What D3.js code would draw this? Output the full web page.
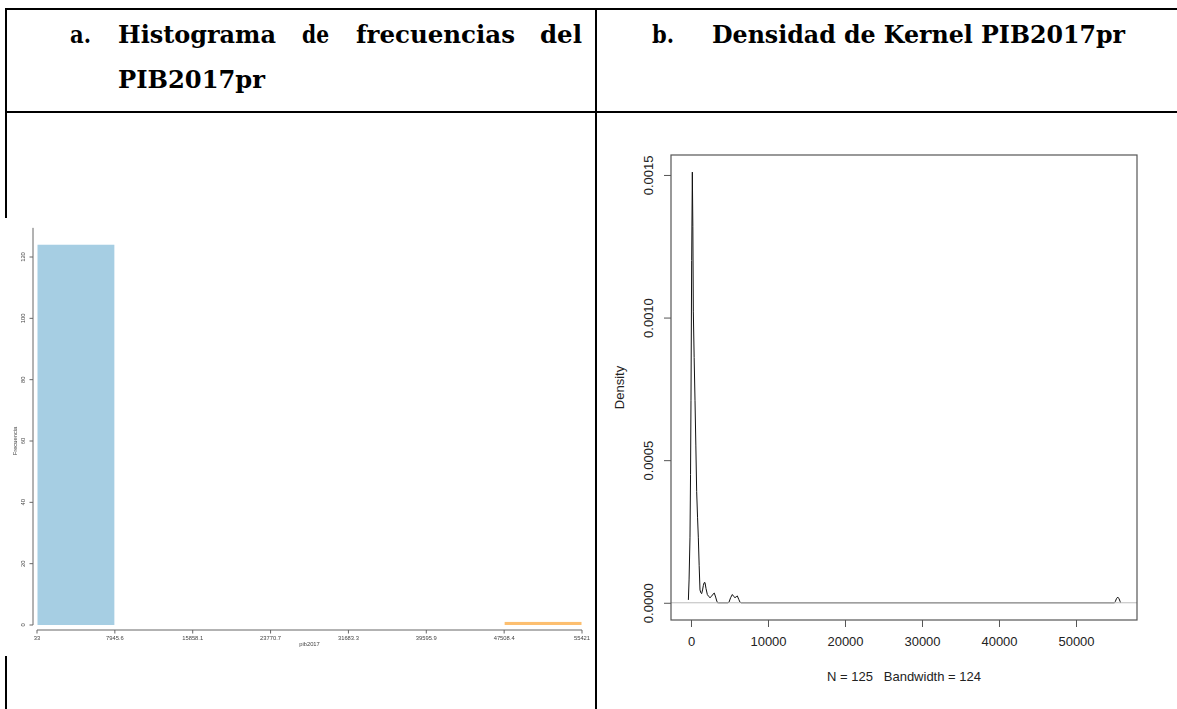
<!DOCTYPE html>
<html>
<head>
<meta charset="utf-8">
<script src="https://cdn.jsdelivr.net/npm/d3@7/dist/d3.min.js"></script>
<style>
  html, body { margin: 0; padding: 0; background: #fff; }
  svg { display: block; }
  text { white-space: pre; }
</style>
</head>
<body>
<svg id="page" width="1177" height="709"></svg>
<script>
// ---- Histogram of pib2017 (7 equal-width bins) ----
const histBreaks = [33, 7945.6, 15858.1, 23770.7, 31683.3, 39595.9, 47508.4, 55421];
const histBreakLabels = ["33", "7945.6", "15858.1", "23770.7", "31683.3", "39595.9", "47508.4", "55421"];
const histCounts = [124, 0, 0, 0, 0, 0, 1];
const histYTicks = [0, 20, 40, 60, 80, 100, 120];

// ---- Kernel density of PIB2017pr (N = 125, bandwidth = 124) ----
const densX = [-339, -250, -130, -60, 0, 87, 173, 240, 303, 410, 520, 630, 736, 850, 952,
  1060, 1169, 1280, 1385, 1500, 1600, 1700, 1818, 1950, 2121, 2300, 2468, 2650, 2850, 3030,
  3200, 3350, 3463, 3600, 4800, 4935, 5150, 5368, 5550, 5714, 5870, 6017, 6200, 6364, 6500,
  55000, 55100, 55250, 55421, 55590, 55740, 55793];
const densY = [0.00001, 0.00008, 0.00023, 0.00045, 0.00071, 0.00120, 0.00151, 0.00132, 0.00102,
  0.00086, 0.00071, 0.00055, 0.00039, 0.00030, 0.00023, 0.00013, 0.000045, 0.000035, 0.000032,
  0.000045, 0.00006, 0.00007, 0.000071, 0.00005, 0.000029, 0.000022, 0.000018, 0.000022, 0.00003,
  0.000034, 0.00002, 0.000006, 0, 0, 0, 0.000002, 0.000018, 0.000029, 0.000022, 0.000018,
  0.000021, 0.000024, 0.000012, 0.000002, 0, 0, 0.000004, 0.000014, 0.00002, 0.000014, 0.000004, 0];
const densXTicks = [0, 10000, 20000, 30000, 40000, 50000];
const densYTicks = [0, 0.0005, 0.0010, 0.0015];
const densYTickLabels = ["0.0000", "0.0005", "0.0010", "0.0015"];
const densN = 125, densBw = 124;

const svg = d3.select("#page");

// ---------- table frame ----------
const frame = svg.append("g").attr("stroke", "#000").attr("stroke-width", 2);
frame.append("line").attr("x1", 5).attr("x2", 1177).attr("y1", 9).attr("y2", 9);
frame.append("line").attr("x1", 5).attr("x2", 1177).attr("y1", 112).attr("y2", 112);
frame.append("line").attr("x1", 6).attr("x2", 6).attr("y1", 8).attr("y2", 709);
frame.append("line").attr("x1", 596).attr("x2", 596).attr("y1", 8).attr("y2", 709);

// ---------- cell headings ----------
const head = svg.append("g")
  .attr("font-family", "'DejaVu Serif Condensed', 'DejaVu Serif', 'Liberation Serif', serif")
  .style("font-stretch", "condensed")
  .attr("font-weight", "bold").attr("font-size", 25).attr("fill", "#000");
const headWords = [
  {t: "a.", x: 70, w: 21, y: 43},
  {t: "Histograma", x: 118, w: 158, y: 43},
  {t: "de", x: 302, w: 27, y: 43},
  {t: "frecuencias", x: 356, w: 159, y: 43},
  {t: "del", x: 540, w: 42, y: 43},
  {t: "PIB2017pr", x: 118, w: 147, y: 88},
  {t: "b.", x: 652, w: 22, y: 43},
  {t: "Densidad de Kernel PIB2017pr", x: 712, w: 413, y: 43}
];
head.selectAll("text").data(headWords).join("text")
  .attr("x", d => d.x).attr("y", d => d.y)
  .attr("textLength", d => d.w).attr("lengthAdjust", "spacingAndGlyphs")
  .text(d => d.t);

// ---------- panel a: histogram ----------
svg.append("rect").attr("x", 0).attr("y", 218).attr("width", 591).attr("height", 438).attr("fill", "#fff");

const defs = svg.append("defs");
defs.append("filter").attr("id", "soft").attr("x", "-5%").attr("y", "-5%").attr("width", "110%").attr("height", "110%")
  .append("feGaussianBlur").attr("stdDeviation", 0.55);

const hist = svg.append("g").attr("filter", "url(#soft)");
const hx = d3.scaleLinear().domain([histBreaks[0], histBreaks[histBreaks.length - 1]]).range([37, 582]);
const hy = d3.scaleLinear().domain([0, 120]).range([625, 257]);
const paired = d3.schemePaired;
const tiny = "'Liberation Sans', Arial, sans-serif";

const bins = histCounts.map((c, i) => ({x0: histBreaks[i], x1: histBreaks[i + 1], c, i}));
hist.selectAll("rect.bar").data(bins.filter(b => b.c > 0)).join("rect")
  .attr("class", "bar")
  .attr("x", d => hx(d.x0) + 0.5)
  .attr("width", d => hx(d.x1) - hx(d.x0) - 1)
  .attr("y", d => hy(d.c))
  .attr("height", d => hy(0) - hy(d.c))
  .attr("fill", d => paired[d.i]);

// y axis
hist.append("line").attr("x1", 33).attr("x2", 33).attr("y1", hy(0)).attr("y2", hy(129.5))
  .attr("stroke", "#666").attr("stroke-width", 1);
const hyt = hist.selectAll("g.yt").data(histYTicks).join("g").attr("class", "yt");
hyt.append("line").attr("x1", 29.5).attr("x2", 33).attr("y1", d => hy(d)).attr("y2", d => hy(d))
  .attr("stroke", "#666");
hyt.append("text")
  .attr("transform", d => `translate(24.5,${hy(d)}) rotate(-90)`)
  .attr("text-anchor", "middle")
  .attr("font-family", tiny).attr("font-size", 5.8).attr("fill", "#444")
  .text(d => d);
hist.append("text")
  .attr("transform", `translate(17,${hy(60)}) rotate(-90)`)
  .attr("text-anchor", "middle")
  .attr("font-family", tiny).attr("font-size", 5.8).attr("fill", "#444")
  .text("Frecuencia");

// x axis
hist.append("line").attr("x1", hx(histBreaks[0])).attr("x2", hx(histBreaks[histBreaks.length - 1]))
  .attr("y1", 630).attr("y2", 630).attr("stroke", "#666");
const hxt = hist.selectAll("g.xt").data(histBreaks).join("g").attr("class", "xt");
hxt.append("line").attr("x1", d => hx(d)).attr("x2", d => hx(d)).attr("y1", 630).attr("y2", 633.5)
  .attr("stroke", "#666");
hxt.append("text")
  .attr("x", d => hx(d)).attr("y", 640)
  .attr("text-anchor", "middle")
  .attr("font-family", tiny).attr("font-size", 5.8).attr("fill", "#444")
  .text((d, i) => histBreakLabels[i]);
hist.append("text")
  .attr("x", (hx(histBreaks[0]) + hx(histBreaks[histBreaks.length - 1])) / 2).attr("y", 646)
  .attr("text-anchor", "middle")
  .attr("font-family", tiny).attr("font-size", 5.8).attr("fill", "#444")
  .text("pib2017");

// ---------- panel b: kernel density ----------
const dens = svg.append("g");
const dx = d3.scaleLinear().domain([-2597, 57922]).range([671, 1137]);
const dy = d3.scaleLinear().domain([-0.0000604, 0.00157]).range([620, 155]);
const sans = "'Liberation Sans', Arial, sans-serif";

const pts = densX.map((x, i) => [x, densY[i]]);
dens.append("path").datum(pts)
  .attr("d", d3.line().x(d => dx(d[0])).y(d => dy(d[1])))
  .attr("fill", "none").attr("stroke", "#111").attr("stroke-width", 1);

// zero reference line drawn over the curve
dens.append("line").attr("x1", dx.range()[0]).attr("x2", dx.range()[1])
  .attr("y1", dy(0)).attr("y2", dy(0)).attr("stroke", "#bdbdbd").attr("stroke-width", 1);

// plot box
dens.append("rect").attr("x", dx.range()[0]).attr("y", dy.range()[1])
  .attr("width", dx.range()[1] - dx.range()[0]).attr("height", dy.range()[0] - dy.range()[1])
  .attr("fill", "none").attr("stroke", "#555").attr("stroke-width", 1.2);

// x axis
const xAxis = d3.axisBottom(dx).tickValues(densXTicks).tickSize(7).tickPadding(10).tickFormat(d3.format("d"));
const gx = dens.append("g").attr("transform", `translate(0,${dy.range()[0]})`).call(xAxis);
gx.select(".domain").remove();
gx.selectAll("line").attr("stroke", "#555");
gx.selectAll("text").attr("font-family", sans).attr("font-size", 13).attr("fill", "#222");

// y axis (labels parallel to the axis)
const yAxis = d3.axisLeft(dy).tickValues(densYTicks).tickSize(7).tickFormat((d, i) => densYTickLabels[i]);
const gy = dens.append("g").attr("transform", `translate(${dx.range()[0]},0)`).call(yAxis);
gy.select(".domain").remove();
gy.selectAll("line").attr("stroke", "#555");
gy.selectAll("text")
  .attr("x", null).attr("dy", null)
  .attr("text-anchor", "middle")
  .attr("transform", "translate(-18,0) rotate(-90)")
  .attr("font-family", sans).attr("font-size", 13).attr("fill", "#222");

dens.append("text")
  .attr("transform", `translate(624,${(dy.range()[0] + dy.range()[1]) / 2}) rotate(-90)`)
  .attr("text-anchor", "middle").attr("font-family", sans).attr("font-size", 13).attr("fill", "#222")
  .text("Density");
dens.append("text")
  .attr("x", (dx.range()[0] + dx.range()[1]) / 2).attr("y", 681)
  .attr("text-anchor", "middle").attr("font-family", sans).attr("font-size", 13).attr("fill", "#222")
  .text(`N = ${densN}   Bandwidth = ${densBw}`);
</script>
</body>
</html>
